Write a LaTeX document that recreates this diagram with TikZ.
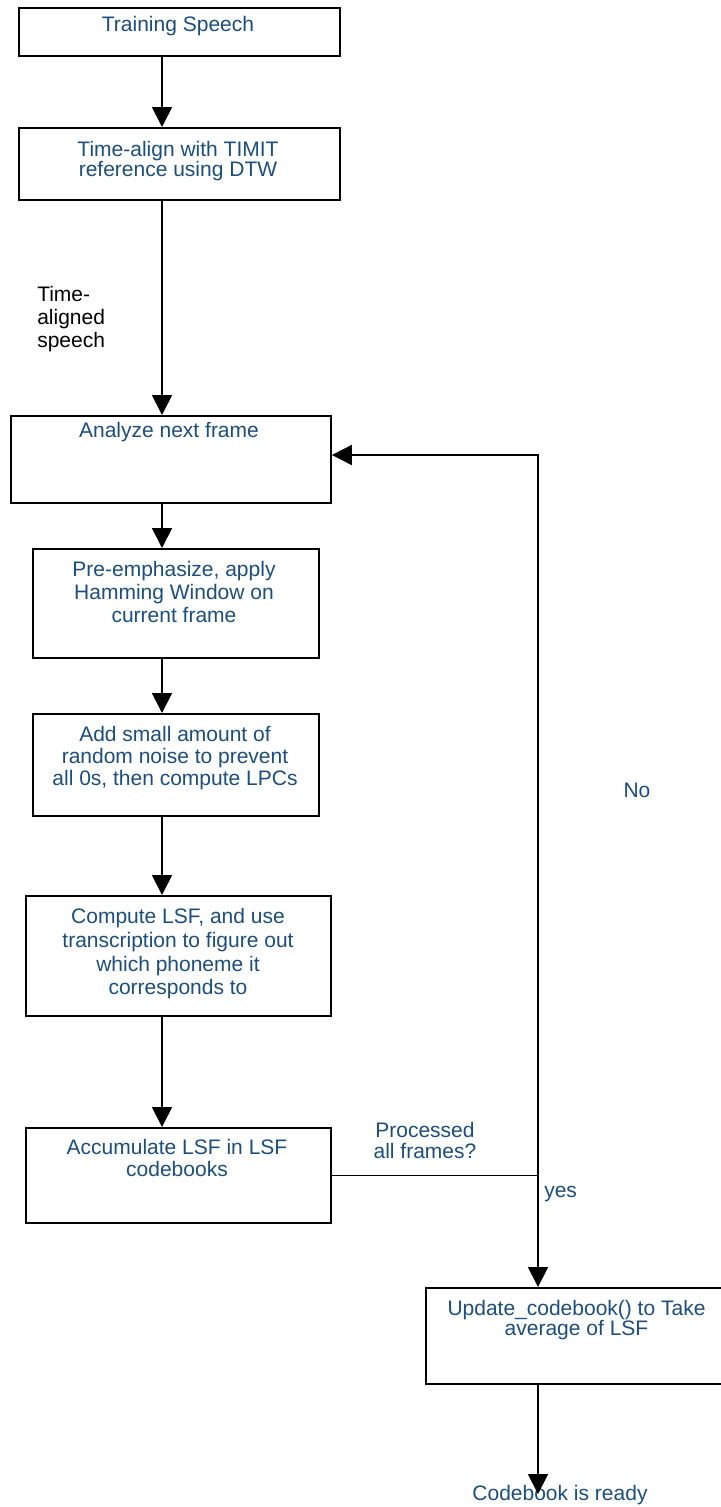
\documentclass[tikz,border=0pt]{standalone}
\usepackage{fontspec}
\setmainfont{Liberation Sans}
\usetikzlibrary{arrows.meta}
\definecolor{flowblue}{HTML}{1B4D7E}
% strut fixing the height of the first text line
\newcommand\fstrut{\rule{0pt}{13pt}}
\begin{document}
\begin{tikzpicture}[x=0.75pt,y=-0.75pt,
  stepbox/.style={draw=black,line width=1.4pt,inner sep=0pt,anchor=north west},
  lbl/.style={inner sep=0pt,anchor=north,align=center,text=flowblue,
              font=\fontsize{15.75}{16.5}\selectfont},
  note/.style={inner sep=0pt,text=flowblue,font=\fontsize{15.75}{16.5}\selectfont},
  arr/.style={line width=1.4pt,-{Triangle[length=15pt,width=15pt]}},
  wire/.style={line width=1.4pt}]
\useasboundingbox (0,0) rectangle (721,1507);

% process boxes
\node[stepbox,minimum width=240.75pt,minimum height=36pt] (b1) at (18,7) {};
\node[stepbox,minimum width=240.75pt,minimum height=54pt] (b2) at (18,127) {};
\node[stepbox,minimum width=240pt,minimum height=65.25pt] (b3) at (10,415) {};
\node[stepbox,minimum width=214.5pt,minimum height=81.75pt] (b4) at (32,548) {};
\node[stepbox,minimum width=214.5pt,minimum height=76.5pt] (b5) at (32,713) {};
\node[stepbox,minimum width=228.75pt,minimum height=90pt] (b6) at (25,895) {};
\node[stepbox,minimum width=228.75pt,minimum height=71.25pt] (b7) at (25,1127) {};
\node[stepbox,minimum width=227.25pt,minimum height=72pt] (b8) at (425,1287) {};

% box texts
\node[lbl] (t1) at (178,13.7) {\fstrut Training Speech};
\node[lbl,font=\fontsize{15.75}{15}\selectfont] (t2) at (178,139) {\fstrut Time-align with TIMIT\\reference using DTW};
\node[lbl] (t3) at (169,420) {\fstrut Analyze next frame};
\node[lbl,font=\fontsize{15.75}{17.25}\selectfont] (t4) at (174,559) {\fstrut Pre-emphasize, apply\\Hamming Window on\\current frame};
\node[lbl] (t5) at (175,724) {\fstrut Add small amount of\\random noise to prevent\\all 0s, then compute LPCs};
\node[lbl,font=\fontsize{15.75}{17.8}\selectfont] (t6) at (178,906) {\fstrut Compute LSF, and use\\transcription to figure out\\which phoneme it\\corresponds to};
\node[lbl] (t7) at (177,1137) {\fstrut Accumulate LSF in LSF\\codebooks};
\node[lbl,font=\fontsize{15.75}{15}\selectfont] (t8) at (576.5,1298) {\fstrut Update\_codebook() to Take\\average of LSF};

% free labels
\node[inner sep=0pt,anchor=north west,align=left,
      font=\fontsize{15.75}{17.25}\selectfont] (ta) at (37,283.7) {\fstrut Time-\\aligned\\speech};
\node[lbl,font=\fontsize{15.75}{15.75}\selectfont] (tq) at (425,1120) {\fstrut Processed\\all frames?};
\node[note,anchor=base west] (tyes) at (544,1197) {yes};
\node[note,anchor=base] (tno) at (637,797) {No};
\node[note,anchor=base] (tready) at (560,1500) {Codebook is ready};

% connector routing points
\coordinate (col) at (162,0);
\coordinate (turn) at (538,455);
\coordinate (jn) at (b7.east -| turn);
\coordinate (tip) at (538,1494);

% main column
\draw[arr] (b1.south -| col) -- (b2.north -| col);
\draw[arr] (b2.south -| col) -- (b3.north -| col);
\draw[arr] (b3.south -| col) -- (b4.north -| col);
\draw[arr] (b4.south -| col) -- (b5.north -| col);
\draw[arr] (b5.south -| col) -- (b6.north -| col);
\draw[arr] (b6.south -| col) -- (b7.north -| col);

% decision and loop back
\draw[wire] (b7.east) -- (jn);
\draw[arr] (jn) -- (turn) -- (b3.east |- turn);
\draw[arr] (jn) -- (b8.north -| jn);
\draw[arr] (b8.south -| jn) -- (tip);
\end{tikzpicture}
\end{document}
